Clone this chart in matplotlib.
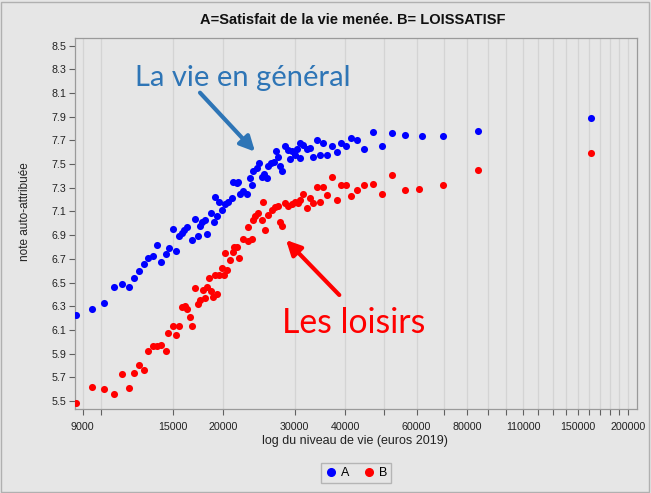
import numpy as np
import matplotlib.pyplot as plt
from matplotlib.patches import Rectangle
from matplotlib.lines import Line2D

plt.rcParams["font.family"] = ["Liberation Sans", "DejaVu Sans"]

# ---------------------------------------------------------------- data
# A = satisfait de la vie menée (bleu), B = LOISSATISF (rouge)
rev_a = [8650, 9490, 10180, 10770, 11270, 11710, 12050, 12400, 12750, 13070,
         13450, 14070, 14430, 13760, 14680, 15300, 15010, 15540, 15800, 16010,
         16310, 16760, 17370, 17070, 17540, 17740, 18010, 18280, 18700, 19020,
         19350, 19130, 19570, 19840, 20220, 20600, 21000, 21190, 21610, 21800,
         22020, 22430, 22870, 23300, 23530, 23750, 24210, 24570, 24910, 25240,
         25630, 25860, 26220, 26710, 27020, 27370, 27640, 27910, 28440, 28970,
         29260, 29540, 30100, 30390, 30970, 30970, 31550, 32170, 32780, 33400,
         34050, 34700, 35360, 36170, 37090, 38160, 39030, 40230, 41390, 42750,
         44560, 46820, 49280, 52170, 56270, 61730, 69720, 85070, 161760]
note_a = [6.23, 6.28, 6.33, 6.46, 6.49, 6.46, 6.54, 6.60, 6.66, 6.71,
          6.72, 6.67, 6.74, 6.82, 6.79, 6.77, 6.95, 6.89, 6.92, 6.94,
          6.97, 6.86, 6.89, 7.04, 6.98, 7.01, 7.03, 6.91, 7.09, 7.01,
          7.06, 7.22, 7.18, 7.11, 7.16, 7.18, 7.21, 7.35, 7.34, 7.35,
          7.25, 7.27, 7.25, 7.38, 7.32, 7.44, 7.47, 7.51, 7.39, 7.42,
          7.38, 7.48, 7.51, 7.52, 7.61, 7.56, 7.48, 7.44, 7.65, 7.62,
          7.54, 7.61, 7.58, 7.63, 7.55, 7.68, 7.66, 7.63, 7.64, 7.56,
          7.70, 7.58, 7.68, 7.58, 7.65, 7.60, 7.68, 7.65, 7.72, 7.70,
          7.63, 7.77, 7.65, 7.76, 7.75, 7.74, 7.74, 7.78, 7.89]

rev_b = [8650, 9490, 10180, 10770, 11690, 11270, 12050, 12400, 12750, 13050,
         13400, 13760, 14070, 14430, 14640, 15010, 15300, 15540, 15800, 16070,
         16310, 16570, 16790, 17050, 17340, 17540, 17810, 18010, 18280, 18640,
         18910, 19280, 18490, 19100, 19570, 19840, 20100, 20410, 20250, 20800,
         21120, 21280, 21610, 21930, 22430, 23080, 23530, 23080, 23750, 23980,
         24430, 24910, 25140, 25380, 25860, 26370, 26860, 27370, 27640, 27910,
         28440, 28970, 29540, 30100, 30670, 30970, 31550, 32280, 32780, 33400,
         34050, 34700, 35360, 36170, 37150, 38160, 39030, 40230, 41390, 42750,
         44560, 46820, 49280, 52170, 56270, 60690, 69720, 85070, 161760]
note_b = [5.48, 5.62, 5.60, 5.56, 5.61, 5.73, 5.74, 5.80, 5.76, 5.92,
          5.96, 5.96, 5.97, 5.92, 6.07, 6.13, 6.06, 6.13, 6.29, 6.30,
          6.28, 6.21, 6.13, 6.45, 6.32, 6.35, 6.44, 6.37, 6.46, 6.43,
          6.38, 6.40, 6.54, 6.56, 6.56, 6.62, 6.56, 6.61, 6.75, 6.69,
          6.76, 6.80, 6.80, 6.71, 6.87, 6.85, 6.87, 6.97, 7.03, 7.06,
          7.09, 7.03, 7.18, 6.94, 7.07, 7.11, 7.14, 7.15, 7.01, 6.98,
          7.17, 7.15, 7.16, 7.18, 7.17, 7.20, 7.25, 7.13, 7.21, 7.17,
          7.31, 7.18, 7.31, 7.24, 7.39, 7.20, 7.32, 7.32, 7.23, 7.28,
          7.32, 7.33, 7.25, 7.41, 7.28, 7.29, 7.32, 7.45, 7.59]

x_ticks = [9000, 10000, 15000] + list(range(20000, 200001, 10000))
x_labelled = [9000, 15000, 20000, 30000, 40000, 60000, 80000,
              110000, 150000, 200000]
y_ticks = [5.5, 5.7, 5.9, 6.1, 6.3, 6.5, 6.7, 6.9, 7.1, 7.3, 7.5, 7.7,
           7.9, 8.1, 8.3, 8.5]

# ---------------------------------------------------------------- style
BG = "#E6E6E6"
GRID = "#D4D4D4"
SPINE = "#9A9A9A"
C_A = "#0000FF"
C_B = "#FF0000"
C_NOTE_A = "#2E75B6"

W, H = 651, 493
fig = plt.figure(figsize=(W / 100, H / 100), dpi=100, facecolor=BG)
ax = fig.add_axes([75 / W, 1 - 409 / H, (637 - 75) / W, (409 - 38) / H])
ax.set_facecolor(BG)

ax.set_xscale("log")
ax.set_xlim(8613, 210100)
ax.set_ylim(5.432, 8.565)

ax.set_xticks(x_ticks)
ax.set_xticklabels([str(t) if t in x_labelled else "" for t in x_ticks])
ax.xaxis.set_minor_locator(plt.NullLocator())
ax.set_yticks(y_ticks)
ax.set_yticklabels([f"{t:.1f}" for t in y_ticks])

ax.tick_params(axis="both", direction="out", length=4, width=0.8,
               color="#606060", labelcolor="#222222")
ax.tick_params(axis="x", labelsize=7.7, pad=5)
ax.tick_params(axis="y", labelsize=7.7, pad=2)
for s in ax.spines.values():
    s.set_color(SPINE)
    s.set_linewidth(0.9)

ax.grid(axis="x", color=GRID, lw=0.9)
ax.set_axisbelow(True)

ax.scatter(rev_a, note_a, s=26, color=C_A, lw=0, zorder=3)
ax.scatter(rev_b, note_b, s=26, color=C_B, lw=0, zorder=3)

# ---------------------------------------------------------------- labels
fig.text(353 / W, 1 - 20 / H, "A=Satisfait de la vie menée. B= LOISSATISF",
         ha="center", va="center", fontsize=10.5, fontweight="bold",
         color="#111111")
fig.text(355 / W, 1 - 441 / H, "log du niveau de vie (euros 2019)",
         ha="center", va="center", fontsize=9, color="#222222")
fig.text(25 / W, 1 - 212 / H, "note auto-attribuée", rotation=90,
         ha="center", va="center", fontsize=8.5, color="#222222")

# annotations (style PowerPoint)
fig.text(135 / W, 1 - 86 / H, "La vie en général", family="Lato",
         fontsize=21, color=C_NOTE_A, ha="left", va="baseline")
ax.annotate("", xy=(255, H - 151.7), xytext=(200, H - 92.7),
            xycoords="figure pixels", textcoords="figure pixels",
            arrowprops=dict(arrowstyle="-|>", color=C_NOTE_A, lw=3,
                            mutation_scale=22, shrinkA=0, shrinkB=0))
fig.text(281.7 / W, 1 - 333.3 / H, "Les loisirs", family="Lato",
         fontsize=24.3, color=C_B, ha="left", va="baseline")
ax.annotate("", xy=(286, H - 240), xytext=(339.3, H - 295),
            xycoords="figure pixels", textcoords="figure pixels",
            arrowprops=dict(arrowstyle="-|>", color=C_B, lw=3,
                            mutation_scale=22, shrinkA=0, shrinkB=0))

# legend
handles = [Line2D([], [], ls="none", marker="o", ms=5.5, mfc=C_A, mec=C_A),
           Line2D([], [], ls="none", marker="o", ms=5.5, mfc=C_B, mec=C_B)]
fig.legend(handles, ["A", "B"], loc="center", bbox_to_anchor=(356 / W, 1 - 473 / H),
           ncol=2, fontsize=9, frameon=True, fancybox=False, edgecolor="#B5B5B5",
           facecolor=BG, framealpha=1, handletextpad=0.3, columnspacing=1.0,
           handlelength=1.0, borderpad=0.35)

# outer border
fig.patches.append(Rectangle((1 / W, 1 / H), (W - 3) / W, (H - 3) / H,
                             transform=fig.transFigure, fill=False,
                             edgecolor="#B0B0B0", lw=1.0))

fig.savefig("out.png", dpi=100, facecolor=BG)
